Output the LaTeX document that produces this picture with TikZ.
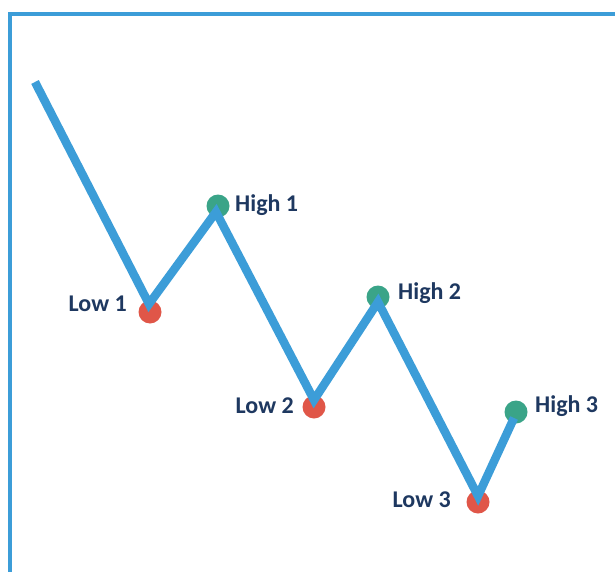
\documentclass[tikz,border=0pt]{standalone}
\usepackage{fontspec}
\setmainfont{Carlito}
\definecolor{lineblue}{RGB}{60,157,216}
\definecolor{dotred}{RGB}{224,86,72}
\definecolor{dotgreen}{RGB}{58,164,136}
\definecolor{navy}{RGB}{30,56,96}
\begin{document}
\begin{tikzpicture}[x=1pt,y=-1pt,
  dot/.style={circle,inner sep=0pt,minimum size=23pt},
  low/.style={dot,fill=dotred},
  high/.style={dot,fill=dotgreen},
  lbl/.style={font=\fontsize{24}{27}\selectfont\bfseries,text=navy,inner sep=0pt},
  zig/.style={draw=lineblue,line width=8.5pt},
  frame/.style={draw=lineblue,line width=4pt}]
\useasboundingbox (0,0) rectangle (615,572);
\fill[white] (0,0) rectangle (615,572);
% frame
\coordinate (fb) at (10,572);
\coordinate (fc) at (10,14);
\coordinate (fr) at (615,14);
\draw[frame] (fb) -- (fc) -- (fr);
% dots
\node[low]  (l1) at (150,312) {};
\node[high] (h1) at (218,206) {};
\node[low]  (l2) at (314,407) {};
\node[high] (h2) at (378,297) {};
\node[low]  (l3) at (478,502) {};
\node[high] (h3) at (516,412) {};
% vertices of the zigzag
\coordinate (s)  at (35,82);
\coordinate (v1) at (149,304);
\coordinate (v2) at (216,212);
\coordinate (v3) at (314,400);
\coordinate (v4) at (378,302);
\coordinate (v5) at (478,496);
\coordinate (v6) at (514,418);
\draw[zig] (s) -- (v1) -- (v2) -- (v3) -- (v4) -- (v5) -- (v6);
% labels
\node[lbl,anchor=east] (tl1) at (127,304) {Low 1};
\node[lbl,anchor=west] (th1) at (235,205) {High 1};
\node[lbl,anchor=east] (tl2) at (294,406) {Low 2};
\node[lbl,anchor=west] (th2) at (398,293) {High 2};
\node[lbl,anchor=east] (tl3) at (451,500) {Low 3};
\node[lbl,anchor=west] (th3) at (535,406) {High 3};
\end{tikzpicture}
\end{document}
